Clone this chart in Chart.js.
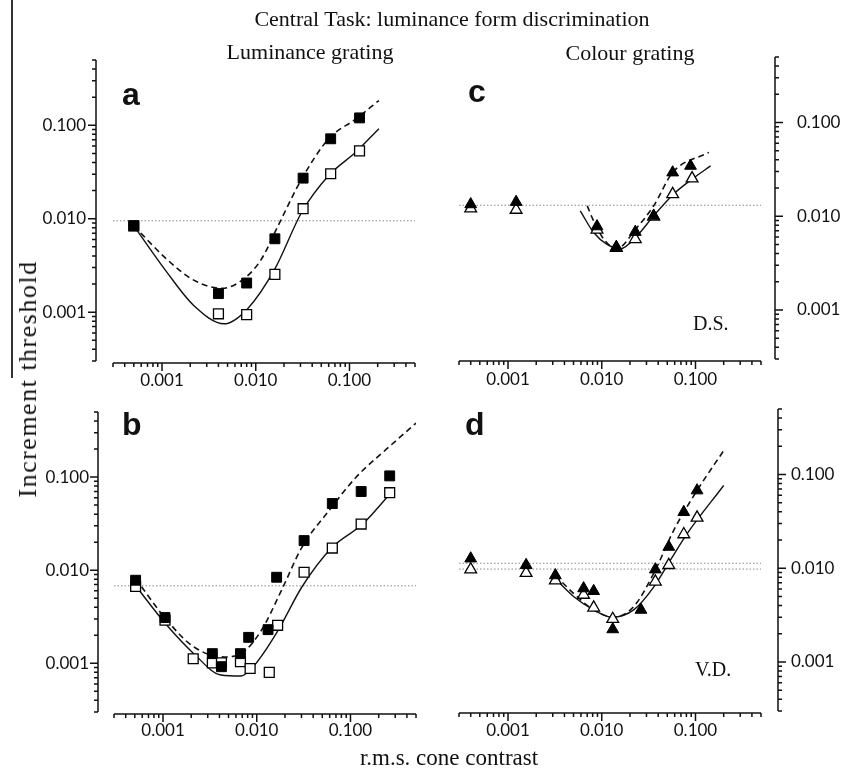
<!DOCTYPE html>
<html>
<head>
<meta charset="utf-8">
<script src="https://cdn.jsdelivr.net/npm/chart.js@4.4.1/dist/chart.umd.min.js"></script>
<style>
  body { margin: 0; background: #fff; }
  #wrap { position: relative; width: 845px; height: 774px; overflow: hidden; background: #fff; }
  #wrap canvas { position: absolute; left: 0; top: 0; }
  .t { position: absolute; white-space: nowrap; line-height: 1; color: #111; }
  .serif { font-family: 'Liberation Serif', 'Times New Roman', serif; }
  .let { font-family: 'Liberation Sans', Arial, sans-serif; font-weight: bold; font-size: 32px; }
  #edge { position: absolute; left: 11px; top: 0; width: 1.5px; height: 378px; background: #333; }
</style>
</head>
<body>
<div id="wrap">
  <div id="edge"></div>
  <canvas id="pa" width="845" height="774"></canvas>
  <canvas id="pb" width="845" height="774"></canvas>
  <canvas id="pc" width="845" height="774"></canvas>
  <canvas id="pd" width="845" height="774"></canvas>

  <div class="t serif" style="left:452px; top:8px; font-size:22px; transform:translateX(-50%)">Central Task: luminance form discrimination</div>
  <div class="t serif" style="left:310px; top:41px; font-size:22px; transform:translateX(-50%)">Luminance grating</div>
  <div class="t serif" style="left:630px; top:42px; font-size:22px; transform:translateX(-50%)">Colour grating</div>
  <div class="t serif" style="left:28px; top:379px; font-size:26px; letter-spacing:1.5px; transform:translate(-50%,-50%) rotate(-90deg)">Increment threshold</div>
  <div class="t serif" style="left:449px; top:746px; font-size:23px; transform:translateX(-50%)">r.m.s. cone contrast</div>

  <div class="t let" style="left:122px; top:78px">a</div>
  <div class="t let" style="left:122px; top:408px">b</div>
  <div class="t let" style="left:468px; top:75px">c</div>
  <div class="t let" style="left:465px; top:408px">d</div>

  <div class="t serif" style="left:693px; top:313px; font-size:20px">D.S.</div>
  <div class="t serif" style="left:695px; top:659px; font-size:20px">V.D.</div>
</div>

<script>
// tick positions (both axes, all panels)
const logTicks = [0.0003, 0.0004, 0.0005, 0.0006, 0.0007, 0.0008, 0.0009,
  0.001, 0.002, 0.003, 0.004, 0.005, 0.006, 0.007, 0.008, 0.009,
  0.01, 0.02, 0.03, 0.04, 0.05, 0.06, 0.07, 0.08, 0.09,
  0.1, 0.2, 0.3, 0.4, 0.5];
const majorTicks = [0.001, 0.01, 0.1];
const majorLabels = ['0.001', '0.010', '0.100'];
const axisMin = 0.0003;
const axisMax = 0.5;

// a: luminance grating, D.S.
const aX = [0.0005, 0.004, 0.008, 0.016, 0.032, 0.063, 0.128];
const aFilledY = [0.0084, 0.00158, 0.00205, 0.0061, 0.0272, 0.0717, 0.120];
const aOpenY = [0.0084, 0.00096, 0.00094, 0.00254, 0.0128, 0.0303, 0.0533];
const aDashX = [0.0005, 0.00112, 0.00218, 0.0044, 0.0076, 0.0115, 0.0174, 0.031, 0.060, 0.117, 0.206];
const aDashY = [0.0084, 0.0037, 0.0022, 0.0018, 0.0023, 0.0037, 0.0085, 0.0268, 0.0717, 0.117, 0.184];
const aSolidX = [0.0005, 0.00112, 0.00218, 0.0046, 0.0082, 0.016, 0.031, 0.060, 0.117, 0.206];
const aSolidY = [0.0084, 0.0027, 0.00118, 0.00075, 0.00109, 0.0029, 0.0118, 0.029, 0.0517, 0.092];
const aRef = [0.0095];

// b: luminance grating, V.D.
const bFilledX = [0.00051, 0.00105, 0.00336, 0.0042, 0.0067, 0.0082, 0.0132, 0.0163, 0.032, 0.064, 0.13, 0.262];
const bFilledY = [0.0078, 0.0031, 0.00127, 0.00092, 0.00127, 0.0019, 0.0023, 0.0084, 0.0208, 0.052, 0.070, 0.103];
const bOpenX = [0.00051, 0.00105, 0.0021, 0.00336, 0.0042, 0.0067, 0.0085, 0.0136, 0.0167, 0.032, 0.064, 0.13, 0.262];
const bOpenY = [0.0067, 0.0029, 0.00112, 0.00101, 0.00101, 0.00104, 0.00088, 0.0008, 0.00256, 0.0095, 0.0173, 0.0313, 0.068];
const bDashX = [0.00051, 0.0011, 0.00213, 0.0045, 0.0068, 0.0112, 0.0184, 0.0303, 0.0589, 0.114, 0.24, 0.5];
const bDashY = [0.0081, 0.0029, 0.0015, 0.00117, 0.00127, 0.00226, 0.0061, 0.0176, 0.0435, 0.099, 0.198, 0.38];
const bSolidX = [0.00051, 0.0011, 0.00213, 0.00413, 0.0068, 0.0095, 0.0169, 0.0303, 0.0638, 0.135, 0.262];
const bSolidY = [0.0068, 0.00256, 0.00127, 0.00075, 0.00073, 0.00096, 0.00226, 0.0066, 0.0176, 0.0313, 0.0655];
const bRef = [0.0068];

// c: colour grating, D.S.
const cFilledX = [0.0004, 0.00122, 0.0089, 0.0143, 0.0228, 0.0358, 0.0571, 0.0885];
const cFilledY = [0.0134, 0.0142, 0.0078, 0.0047, 0.0068, 0.0101, 0.0293, 0.0345];
const cOpenX = [0.0004, 0.00122, 0.0089, 0.0143, 0.0228, 0.0358, 0.0571, 0.092];
const cOpenY = [0.0121, 0.0117, 0.0072, 0.0046, 0.0057, 0.0099, 0.0172, 0.0253];
const cDashX = [0.0070, 0.0082, 0.0105, 0.0143, 0.0238, 0.0358, 0.0571, 0.139];
const cDashY = [0.0129, 0.0089, 0.0057, 0.0045, 0.0076, 0.0129, 0.0293, 0.048];
const cSolidX = [0.0059, 0.0082, 0.0114, 0.0158, 0.0238, 0.0358, 0.0582, 0.092, 0.145];
const cSolidY = [0.0114, 0.0067, 0.0050, 0.0045, 0.0062, 0.0101, 0.0172, 0.0249, 0.0345];
const cRef = [0.0131];

// d: colour grating, V.D.
const dFilledX = [0.0004, 0.00156, 0.0032, 0.0064, 0.0082, 0.0131, 0.0262, 0.0373, 0.0519, 0.075, 0.104];
const dFilledY = [0.0127, 0.0108, 0.0084, 0.0061, 0.0057, 0.00223, 0.0036, 0.0097, 0.0169, 0.0397, 0.0676];
const dOpenX = [0.0004, 0.00156, 0.0032, 0.0064, 0.0082, 0.0131, 0.0373, 0.0519, 0.075, 0.104];
const dOpenY = [0.0097, 0.0089, 0.0074, 0.0052, 0.0038, 0.00287, 0.0072, 0.0108, 0.023, 0.0346];
const dDashX = [0.0032, 0.005, 0.0082, 0.0134, 0.0219, 0.0358, 0.0586, 0.104, 0.2];
const dDashY = [0.0084, 0.0054, 0.0036, 0.0030, 0.0039, 0.0088, 0.0254, 0.0676, 0.18];
const dSolidX = [0.00305, 0.005, 0.0082, 0.0129, 0.0219, 0.0358, 0.054, 0.0815, 0.2];
const dSolidY = [0.0081, 0.0050, 0.0036, 0.0030, 0.0036, 0.0063, 0.0122, 0.0234, 0.0764];
const dRef = [0.0113, 0.0098];

function pts(xs, ys) {
  return xs.map((x, i) => ({ x: x, y: ys[i] }));
}

function majorIndex(v) {
  return majorTicks.findIndex(m => Math.abs(Math.log10(v / m)) < 0.001);
}

// axis lines with long/short tick marks, offset like the original figure
const axisLines = {
  id: 'axisLines',
  afterDraw(chart, args, o) {
    const ctx = chart.ctx, a = chart.chartArea;
    const sx = chart.scales.x, sy = chart.scales.y;
    ctx.save();
    ctx.strokeStyle = '#111';
    ctx.lineWidth = 1.5;
    ctx.beginPath();
    const xy = a.bottom + o.xGap;
    ctx.moveTo(a.left, xy);
    ctx.lineTo(a.right, xy);
    sx.ticks.forEach(t => {
      const p = sx.getPixelForValue(t.value);
      ctx.moveTo(p, xy);
      ctx.lineTo(p, xy + (t.major ? 8 : 4));
    });
    const dir = o.side === 'left' ? -1 : 1;
    const yx = o.side === 'left' ? a.left - o.yGap : a.right + o.yGap;
    ctx.moveTo(yx, a.top);
    ctx.lineTo(yx, a.bottom);
    sy.ticks.forEach(t => {
      const p = sy.getPixelForValue(t.value);
      ctx.moveTo(yx, p);
      ctx.lineTo(yx + dir * (t.major ? 8 : 4), p);
    });
    ctx.stroke();
    ctx.restore();
  }
};

function logAxis(position, padding, fit) {
  return {
    type: 'logarithmic',
    position: position,
    min: axisMin,
    max: axisMax,
    grid: { display: false, drawTicks: false },
    border: { display: false },
    afterBuildTicks: s => {
      s.ticks = logTicks.map(v => ({ value: v, major: majorIndex(v) >= 0 }));
    },
    afterFit: fit,
    ticks: {
      autoSkip: false,
      maxRotation: 0,
      minRotation: 0,
      padding: padding,
      color: '#111',
      font: { family: 'Lato', size: 17 },
      callback: v => {
        const i = majorIndex(v);
        return i >= 0 ? majorLabels[i] : '';
      }
    }
  };
}

function panel(id, p) {
  const left = p.side === 'left';
  const area = p.area;
  const marker = p.marker;
  const r = marker === 'rect' ? 7 : 6.8;
  const yw = left ? 80 : 845 - area.r;
  const datasets = [
    { data: pts(p.filledX, p.filledY), pointStyle: marker, pointRadius: r,
      backgroundColor: '#000', borderColor: '#000', borderWidth: 1, order: 0 },
    { data: pts(p.openX, p.openY), pointStyle: marker, pointRadius: r,
      backgroundColor: '#fff', borderColor: '#000', borderWidth: 1.3, order: 1 },
    { data: pts(p.dashX, p.dashY), showLine: true, pointRadius: 0, borderColor: '#111',
      borderWidth: 1.6, borderDash: [6, 4], cubicInterpolationMode: 'monotone', order: 2 },
    { data: pts(p.solidX, p.solidY), showLine: true, pointRadius: 0, borderColor: '#111',
      borderWidth: 1.4, cubicInterpolationMode: 'monotone', order: 2 }
  ];
  p.refs.forEach(v => {
    datasets.push({ data: [{ x: axisMin, y: v }, { x: axisMax, y: v }], showLine: true,
      pointRadius: 0, borderColor: '#888', borderWidth: 1, borderDash: [1.5, 2], order: 3 });
  });

  new Chart(document.getElementById(id), {
    type: 'scatter',
    data: { datasets: datasets },
    options: {
      responsive: false,
      animation: false,
      events: [],
      layout: {
        padding: left
          ? { left: area.l - yw, right: 845 - area.r, top: area.t, bottom: 774 - area.b - 30 }
          : { left: area.l, right: 845 - area.r - yw, top: area.t, bottom: 774 - area.b - 30 }
      },
      scales: {
        x: logAxis('bottom', p.xPad, s => { s.height = 30; }),
        y: logAxis(p.side, p.yPad, s => { s.width = yw; })
      },
      plugins: {
        legend: { display: false },
        tooltip: { enabled: false },
        axisLines: { side: p.side, yGap: p.yGap, xGap: 2 }
      }
    },
    plugins: [axisLines]
  });
}

panel('pa', { side: 'left', marker: 'rect', area: { l: 113, t: 60, r: 415, b: 361 },
  yGap: 17, yPad: 27, xPad: 9,
  filledX: aX, filledY: aFilledY, openX: aX, openY: aOpenY,
  dashX: aDashX, dashY: aDashY, solidX: aSolidX, solidY: aSolidY, refs: aRef });

panel('pb', { side: 'left', marker: 'rect', area: { l: 114, t: 412, r: 416, b: 712 },
  yGap: 16, yPad: 25, xPad: 8,
  filledX: bFilledX, filledY: bFilledY, openX: bOpenX, openY: bOpenY,
  dashX: bDashX, dashY: bDashY, solidX: bSolidX, solidY: bSolidY, refs: bRef });

panel('pc', { side: 'right', marker: 'triangle', area: { l: 459, t: 57, r: 761, b: 359 },
  yGap: 14, yPad: 36, xPad: 10,
  filledX: cFilledX, filledY: cFilledY, openX: cOpenX, openY: cOpenY,
  dashX: cDashX, dashY: cDashY, solidX: cSolidX, solidY: cSolidY, refs: cRef });

panel('pd', { side: 'right', marker: 'triangle', area: { l: 459, t: 409, r: 761, b: 711 },
  yGap: 17, yPad: 30, xPad: 9,
  filledX: dFilledX, filledY: dFilledY, openX: dOpenX, openY: dOpenY,
  dashX: dDashX, dashY: dDashY, solidX: dSolidX, solidY: dSolidY, refs: dRef });
</script>
</body>
</html>
